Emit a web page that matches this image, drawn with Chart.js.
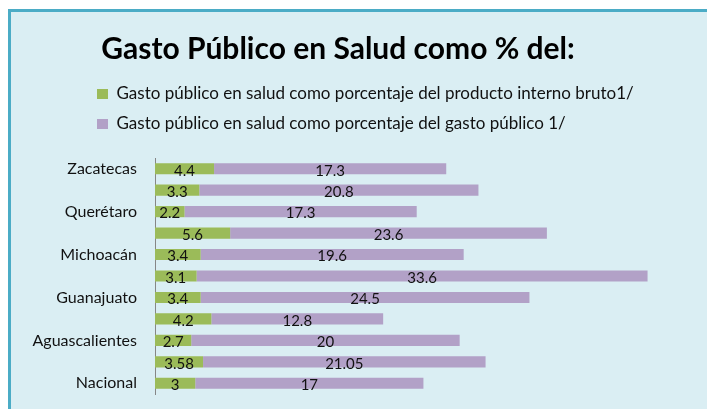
<!DOCTYPE html>
<html>
<head>
<meta charset="utf-8">
<script src="https://cdn.jsdelivr.net/npm/chart.js@4"></script>
<style>
  html, body { margin: 0; padding: 0; background: #fff; overflow: hidden; }
  #panel {
    position: absolute; left: 8px; top: 9px; width: 720px; height: 420px;
    background: #DAEEF3;
    border-top: 3px solid #4BACC6; border-left: 3px solid #4BACC6;
  }
  #grafico { position: absolute; left: 0; top: 0; }
</style>
</head>
<body>
<div id="panel"><canvas id="grafico" width="696" height="397"></canvas></div>
<script>
const estados = ['Zacatecas', 'San Luis Potosí', 'Querétaro', 'Nayarit', 'Michoacán', 'Jalisco',
  'Guanajuato', 'Colima', 'Aguascalientes', 'Región Centro Occidente', 'Nacional'];
const pctPIB = [4.4, 3.3, 2.2, 5.6, 3.4, 3.1, 3.4, 4.2, 2.7, 3.58, 3];
const pctGasto = [17.3, 20.8, 17.3, 23.6, 19.6, 33.6, 24.5, 12.8, 20, 21.05, 17];
const nombresSeries = [
  'Gasto público en salud como porcentaje del producto interno bruto1/',
  'Gasto público en salud como porcentaje del gasto público 1/'
];
const titulo = 'Gasto Público en Salud como % del:';

const fuente = 'Lato, "Open Sans", sans-serif';

// valores escritos al centro de cada tramo de la barra
const etiquetas = {
  id: 'etiquetas',
  afterDatasetsDraw(chart) {
    const ctx = chart.ctx;
    ctx.save();
    ctx.font = '15px ' + fuente;
    ctx.fillStyle = '#111';
    ctx.textAlign = 'center';
    ctx.textBaseline = 'middle';
    chart.data.datasets.forEach((ds, i) => {
      chart.getDatasetMeta(i).data.forEach((barra, j) => {
        ctx.fillText(String(ds.data[j]), (barra.x + barra.base) / 2, barra.y + 2);
      });
    });
    ctx.restore();
  }
};

// la leyenda va alineada bajo el título, no contra el borde
const moverLeyenda = {
  id: 'moverLeyenda',
  afterLayout(chart) {
    const l = chart.legend;
    l.left += 73; l.right += 73;
    l.top -= 15.5; l.bottom -= 15.5;
  }
};

new Chart(document.getElementById('grafico'), {
  type: 'bar',
  data: {
    labels: estados,
    datasets: [
      { label: nombresSeries[0], data: pctPIB, backgroundColor: '#9BBB59', borderWidth: 0 },
      { label: nombresSeries[1], data: pctGasto, backgroundColor: '#B2A1C7', borderWidth: 0 }
    ]
  },
  options: {
    indexAxis: 'y',
    responsive: false,
    animation: false,
    events: [],
    layout: { padding: { top: 0, right: 42, bottom: 15, left: 0 } },
    datasets: { bar: { barPercentage: 0.52, categoryPercentage: 1 } },
    scales: {
      x: { stacked: true, display: false, min: 0, max: 38 },
      y: {
        stacked: true,
        grid: { display: false, drawTicks: false },
        border: { display: true, color: '#868686', width: 1 },
        ticks: {
          color: '#111',
          padding: 18,
          autoSkip: false,
          font: { family: fuente, size: 16 },
          callback: (v, i) => (i % 2 === 0 ? estados[i] : '')
        },
        afterFit(scale) {
          scale.width = 144;
          // las etiquetas caen en el centro de cada banda, no hace falta margen extra
          scale.paddingTop = 0;
          scale.paddingBottom = 0;
        }
      }
    },
    plugins: {
      title: {
        display: true,
        text: titulo,
        color: '#000',
        font: { family: fuente, size: 30, weight: 'bold', lineHeight: 1.2 },
        padding: { top: 19, bottom: 21 }
      },
      legend: {
        position: 'top',
        align: 'start',
        labels: {
          color: '#111',
          boxWidth: 11,
          boxHeight: 10,
          padding: 13,
          font: { family: fuente, size: 17 }
        }
      },
      tooltip: { enabled: false }
    }
  },
  plugins: [etiquetas, moverLeyenda]
});
</script>
</body>
</html>
